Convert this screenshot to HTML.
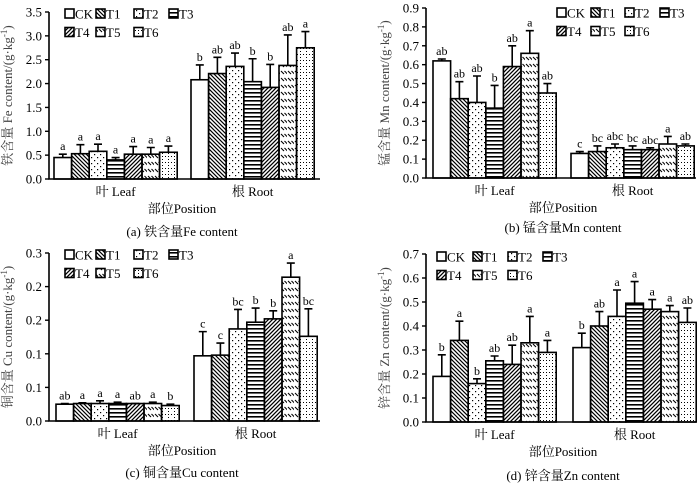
<!DOCTYPE html>
<html><head><meta charset="utf-8">
<style>
html,body{margin:0;padding:0;background:#fff;}
svg{display:block;font-family:"Liberation Serif","Noto Serif CJK SC",serif;}
</style></head>
<body>
<svg id="chart" width="700" height="484" viewBox="0 0 700 484" xmlns="http://www.w3.org/2000/svg">
<defs>
<pattern id="p1" patternUnits="userSpaceOnUse" width="4" height="4"><path d="M-1,-1 L5,5 M-1,3 L1,5 M3,-1 L5,1" stroke="#000" stroke-width="1.2"/></pattern>
<pattern id="p2" patternUnits="userSpaceOnUse" width="6" height="6"><rect x="1" y="1" width="1.2" height="1.2" fill="#000"/><rect x="4" y="4" width="1.2" height="1.2" fill="#000"/></pattern>
<pattern id="p3" patternUnits="userSpaceOnUse" width="4" height="4"><rect x="0" y="0" width="4" height="1.6" fill="#000"/></pattern>
<pattern id="p4" patternUnits="userSpaceOnUse" width="4" height="4"><path d="M-1,5 L5,-1 M-1,1 L1,-1 M3,5 L5,3" stroke="#000" stroke-width="1.3"/></pattern>
<pattern id="p5" patternUnits="userSpaceOnUse" width="7" height="7"><path d="M1,1 L4,4" stroke="#000" stroke-width="1.1"/><path d="M4.5,1 L7.5,4" stroke="#000" stroke-width="1.1"/></pattern>
<pattern id="p6" patternUnits="userSpaceOnUse" width="6" height="6"><rect x="0" y="0" width="1" height="1" fill="#000"/><rect x="3" y="0" width="1" height="1" fill="#000"/><rect x="0" y="3" width="1" height="1" fill="#000"/></pattern>
</defs>
</svg>
<script>
const series = ["CK","T1","T2","T3","T4","T5","T6"];
const categories = ["叶 Leaf","根 Root"];
const feLeaf = [0.45,0.53,0.58,0.40,0.52,0.52,0.56];
const feLeafErr = [0.52,0.72,0.73,0.45,0.68,0.66,0.69];
const feRoot = [2.08,2.21,2.36,2.04,1.92,2.38,2.75];
const feRootErr = [2.39,2.55,2.64,2.52,2.40,3.02,3.09];
const feLeafLet = ["a","a","a","a","a","a","a"];
const feRootLet = ["b","ab","ab","b","b","ab","a"];
const feTicks = ["0.0","0.5","1.0","1.5","2.0","2.5","3.0","3.5"];
const mnLeaf = [0.62,0.42,0.40,0.37,0.59,0.66,0.45];
const mnLeafErr = [0.63,0.51,0.54,0.49,0.70,0.78,0.50];
const mnRoot = [0.13,0.14,0.16,0.15,0.15,0.18,0.17];
const mnRootErr = [0.14,0.17,0.18,0.17,0.16,0.22,0.18];
const mnLeafLet = ["ab","ab","ab","b","ab","a","ab"];
const mnRootLet = ["c","bc","abc","bc","abc","a","ab"];
const mnTicks = ["0.0","0.1","0.2","0.3","0.4","0.5","0.6","0.7","0.8","0.9"];
const cuLeaf = [0.025,0.026,0.026,0.026,0.026,0.026,0.023];
const cuLeafErr = [0.026,0.027,0.030,0.028,0.026,0.028,0.025];
const cuRoot = [0.097,0.098,0.137,0.147,0.152,0.214,0.126];
const cuRootErr = [0.133,0.116,0.166,0.168,0.164,0.235,0.167];
const cuLeafLet = ["ab","a","a","a","ab","a","b"];
const cuRootLet = ["c","c","bc","b","b","a","bc"];
const cuTicks = ["0.0","0.1","0.1","0.2","0.2","0.3"];
const znLeaf = [0.19,0.34,0.16,0.255,0.24,0.33,0.29];
const znLeafErr = [0.28,0.42,0.18,0.275,0.32,0.44,0.34];
const znRoot = [0.31,0.40,0.44,0.495,0.47,0.46,0.415];
const znRootErr = [0.37,0.46,0.55,0.585,0.51,0.485,0.475];
const znLeafLet = ["b","a","b","ab","ab","a","a"];
const znRootLet = ["b","ab","a","a","a","a","ab"];
const znTicks = ["0.0","0.1","0.2","0.3","0.4","0.5","0.6","0.7"];

const NS="http://www.w3.org/2000/svg";
const svg=document.getElementById('chart');
function mk(tag,attrs,parent,txt){const e=document.createElementNS(NS,tag);for(const k in attrs)e.setAttribute(k,attrs[k]);if(txt!==undefined)e.textContent=txt;(parent||svg).appendChild(e);return e;}
const fills=["#fff","url(#p1)","url(#p2)","url(#p3)","url(#p4)","url(#p5)","url(#p6)"];

function panel(cfg){
  const g=mk('g',{});
  
  
  const y=v=>cfg.y0-v/cfg.max*(cfg.y0-cfg.yTop);
  const bw=17.6;
  const xBar=(gi,i)=>cfg.starts[gi]+i*bw;
  const data=[[cfg.leaf,cfg.leafErr,cfg.leafLet],[cfg.root,cfg.rootErr,cfg.rootLet]];
  data.forEach((d,gi)=>{
    d[0].forEach((v,i)=>{
      const x=xBar(gi,i);
      const r=mk('rect',{x:x,y:y(v),width:bw,height:cfg.y0-y(v),fill:fills[i],stroke:"#000","stroke-width":1.6},g);
      
      
      const cx=x+bw/2, et=y(d[1][i]);
      const eb=mk('path',{d:`M${cx},${y(v)} V${et} M${cx-4},${et} H${cx+4}`,stroke:"#000","stroke-width":1.6,fill:"none"},g);
      
      
      const t=mk('text',{x:cx,y:et-4,"text-anchor":"middle","font-size":12},g,d[2][i]);
      
      
    });
  });
  const ax=mk('path',{d:`M${cfg.x0},${cfg.yTop} V${cfg.y0} H${cfg.x1}`,stroke:"#000","stroke-width":1.6,fill:"none"},g);
  
  
  const step=cfg.max/(cfg.ticks.length-1);
  cfg.ticks.forEach((lab,i)=>{
    const ty=y(i*step);
    mk('line',{x1:cfg.x0-4,x2:cfg.x0,y1:ty,y2:ty,stroke:"#000","stroke-width":1.4},g);
    const t=mk('text',{x:cfg.x0-7,y:ty+4.5,"text-anchor":"end","font-size":13},g,lab);
    
    
  });
  categories.forEach((c,gi)=>{
    const t=mk('text',{x:cfg.starts[gi]+bw*3.5,y:cfg.y0+17,"text-anchor":"middle","font-size":13},g,c);
    
    
  });
  const xt=mk('text',{x:cfg.cx,y:cfg.y0+34,"text-anchor":"middle","font-size":13},g,"部位Position");
  
  
  const cap=mk('text',{x:cfg.cx,y:cfg.capY,"text-anchor":"middle","font-size":13},g,cfg.caption);
  
  
  const yl=mk('text',{x:0,y:0,transform:`translate(${cfg.x0-37},${(cfg.yTop+cfg.y0)/2}) rotate(-90)`,"text-anchor":"middle","font-size":13,fill:"#444"},g);
  
  
  yl.innerHTML=cfg.ylab+'/(g·kg<tspan dy="-5" font-size="9">-1</tspan><tspan dy="5">)</tspan>';
  series.forEach((s,i)=>{
    const row=i<4?0:1, col=i<4?i:i-4;
    const lx=cfg.legX[col], ly=cfg.legY+row*18.5;
    const lg=mk('g',{},g);
    
    
    mk('rect',{x:lx-5,y:ly-5,width:9,height:9,fill:fills[i],stroke:"#000","stroke-width":1.6},lg);
    mk('text',{x:lx+5,y:ly+4.5,"font-size":13},lg,s);
  });
}
panel({name:'panel-a-fe',leaf:feLeaf,leafErr:feLeafErr,root:feRoot,rootErr:feRootErr,leafLet:feLeafLet,rootLet:feRootLet,ticks:feTicks,max:3.5,x0:49,x1:320,yTop:12,y0:179,starts:[54,191],cx:182,capY:236,caption:"(a) 铁含量Fe content",ylab:"铁含量 Fe content",legX:[70,101,139,174],legY:14});
panel({name:'panel-b-mn',leaf:mnLeaf,leafErr:mnLeafErr,root:mnRoot,rootErr:mnRootErr,leafLet:mnLeafLet,rootLet:mnRootLet,ticks:mnTicks,max:0.9,x0:426,x1:696,yTop:8,y0:178,starts:[433,571],cx:563,capY:232,caption:"(b) 锰含量Mn content",ylab:"锰含量 Mn content",legX:[562,596,630,665],legY:13});
panel({name:'panel-c-cu',leaf:cuLeaf,leafErr:cuLeafErr,root:cuRoot,rootErr:cuRootErr,leafLet:cuLeafLet,rootLet:cuRootLet,ticks:cuTicks,max:0.25,x0:49,x1:320,yTop:253,y0:421,starts:[56,194],cx:182,capY:477,caption:"(c) 铜含量Cu content",ylab:"铜含量 Cu content",legX:[70,101,139,174],legY:255});
panel({name:'panel-d-zn',leaf:znLeaf,leafErr:znLeafErr,root:znRoot,rootErr:znRootErr,leafLet:znLeafLet,rootLet:znRootLet,ticks:znTicks,max:0.7,x0:426,x1:696,yTop:254,y0:422,starts:[433,573],cx:563,capY:480,caption:"(d) 锌含量Zn content",ylab:"锌含量 Zn content",legX:[442,478,513,548],legY:257});
</script>
</body></html>
